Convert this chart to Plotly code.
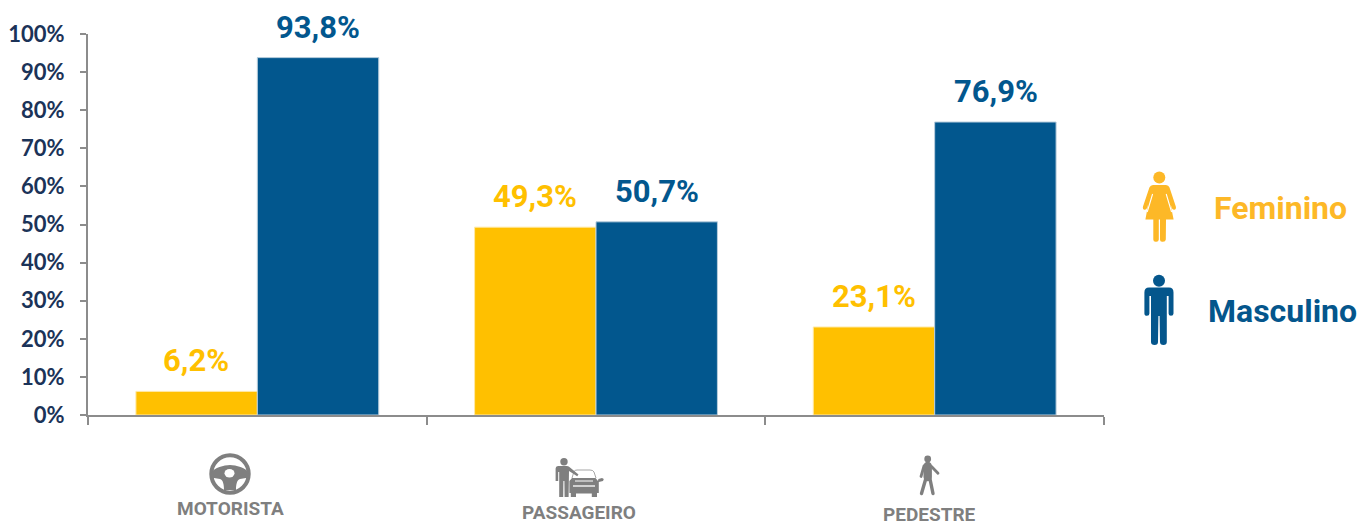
import base64
import plotly.graph_objects as go

W, H = 1357, 522
L, R, T, B = 88, 1104, 34, 415

categories = ["MOTORISTA", "PASSAGEIRO", "PEDESTRE"]
feminino = [6.2, 49.3, 23.1]
masculino = [93.8, 50.7, 76.9]
y_ticks = [0, 10, 20, 30, 40, 50, 60, 70, 80, 90, 100]
y_tick_labels = [f"{v}%" for v in y_ticks]

YELLOW = "#FFC000"
BLUE = "#02578E"
LEG_Y = "#FDB827"
LEG_B = "#04568C"
GRAY = "#7F7F7F"
NAVY = "#1B3358"


def px(x):
    return (x - L) / (R - L)


def py(y):
    return (B - y) / (B - T)


def fmt(v):
    return f"{v:.1f}".replace(".", ",") + "%"


def icon(x0, y0, x1, y1, body):
    svg = (f'<svg xmlns="http://www.w3.org/2000/svg" width="{(x1-x0)*4}" height="{(y1-y0)*4}" '
           f'viewBox="{x0} {y0} {x1-x0} {y1-y0}">{body}</svg>')
    src = "data:image/svg+xml;base64," + base64.b64encode(svg.encode()).decode()
    return dict(source=src, xref="paper", yref="paper", x=px(x0), y=py(y0),
                sizex=(x1 - x0) / (R - L), sizey=(y1 - y0) / (B - T),
                xanchor="left", yanchor="top", sizing="stretch", layer="above")


woman = f'''<g fill="{LEG_Y}"><circle cx="1159.3" cy="177.4" r="6"/>
<path d="M1153,185 L1166,185 Q1168.5,185 1169.5,187.5 L1175.8,206.5 Q1176.5,209.5 1174.2,209.8 Q1172.5,210 1171.8,208 L1170.6,204.5 L1173.6,219.5 L1166,219.5 L1165.8,239.5 Q1165.6,241.8 1163,241.8 L1162,241.8 Q1160,241.8 1160,239.5 L1160,219.5 L1158.8,219.5 L1158.8,239.5 Q1158.6,241.8 1156.4,241.8 L1155.6,241.8 Q1153.3,241.8 1153.3,239.5 L1153.3,219.5 L1145.4,219.5 L1148.2,204.5 L1147,208 Q1146.3,210 1144.6,209.8 Q1142.3,209.5 1143,206.5 L1149.4,187.5 Q1150.5,185 1153,185Z"/></g>
<path d="M1152.6,194 L1147.2,212 M1166.2,194 L1171.6,212" stroke="#fff" stroke-width="1.1" fill="none"/>'''

man = f'''<g fill="{LEG_B}"><circle cx="1159" cy="280.8" r="6"/>
<path d="M1149,287.6 L1169,287.6 Q1173.5,287.6 1173.5,292.5 L1173.5,313.5 Q1173.5,315.8 1171,315.8 Q1168.6,315.8 1168.6,313.5 L1168.6,296 L1166.8,296 L1166.8,342 Q1166.8,345 1163.5,345 Q1160,345 1160,342 L1159.6,316 L1158.4,316 L1158,342 Q1158,345 1154.6,345 Q1151,345 1151,342 L1151,296 L1149.4,296 L1149.4,313.5 Q1149.4,315.8 1147,315.8 Q1144.4,315.8 1144.4,313.5 L1144.4,292.5 Q1144.4,287.6 1149,287.6Z"/></g>'''

wheel = f'''<circle cx="230" cy="474" r="18.7" fill="none" stroke="{GRAY}" stroke-width="4"/>
<path d="M212,472 C214,468 224,465 230,465 C236,465 246,468 248,472 C250,476 248,478 246,478 L240,479 C237,480 236,484 236,490 L224,490 C224,484 223,480 220,479 L214,478 C212,478 210,476 212,472Z" fill="{GRAY}"/>
<ellipse cx="229.5" cy="473.2" rx="5" ry="4.2" fill="#fff"/>'''

passenger = f'''<g fill="{GRAY}"><circle cx="564" cy="461.7" r="3.7"/>
<path d="M558,466 L567,466 Q569,466 570,467.5 L578.5,474.5 L577.2,476.2 L569,471 L568.6,497 L564.6,497 L564.4,481 L563.4,481 L563.2,497 L559.2,497 L559.2,472 L558.2,472 L558.2,481 L555.6,481 L555.6,468.5 Q555.6,466 558,466Z"/>
<path d="M569.4,481 L572,478 L595.5,478 L598,481 L598.4,479 L602,478 L603.8,479 L603,481 L598.8,482 L598.8,493 L597,493 L597,497 L591.8,497 L591.8,493.5 L576,493.5 L576,497 L570.8,497 L570.8,493 L569.4,493Z"/>
</g><path d="M572,478 L574,471.5 Q575,470 577,470 L590,470 Q593,470 594,472 L596,478" fill="none" stroke="{GRAY}" stroke-width="0.7"/>
<path d="M573,486 L595,486" stroke="#fff" stroke-width="1.3"/><path d="M575,481 L593,481" stroke="#fff" stroke-width="1"/>'''

walker = f'''<circle cx="927.7" cy="459" r="3.4" fill="{GRAY}"/>
<g stroke="{GRAY}" fill="none" stroke-linecap="round" stroke-linejoin="round">
<path d="M924,466 L921,476.5 M931.5,466.5 L938,473.2" stroke-width="2.8"/>
<path d="M926,478 L921.5,493.5 M929.8,478 L933,493.5" stroke-width="3.4"/>
<path d="M927.7,466 L927.7,477" stroke-width="8.4"/></g>'''

fig = go.Figure()
fig.add_bar(name="Feminino", x=categories, y=feminino, marker=dict(color=YELLOW, line=dict(color="#FFE9A6", width=1)))
fig.add_bar(name="Masculino", x=categories, y=masculino, marker=dict(color=BLUE, line=dict(color="#B9CEDD", width=1)))

annotations = []
for cat, vals, col, shift in ((categories, feminino, YELLOW, -61), (categories, masculino, BLUE, 61)):
    for c, v in zip(cat, vals):
        annotations.append(dict(x=c, y=v, text=f"<b>{fmt(v)}</b>", showarrow=False, xshift=shift,
                                yshift=10, yanchor="bottom", font=dict(family="Roboto", size=31, color=col)))

for text, cx, cy in (("MOTORISTA", 230, 508.5), ("PASSAGEIRO", 579, 512), ("PEDESTRE", 929, 514)):
    annotations.append(dict(xref="paper", yref="paper", x=px(cx), y=py(cy), text=f"<b>{text}</b>", showarrow=False,
                            xanchor="center", yanchor="middle", height=15, borderpad=0, valign="middle",
                            font=dict(family="Roboto", size=19, color=GRAY)))
for text, cx, cy, col in (("Feminino", 1280.5, 208, LEG_Y), ("Masculino", 1282, 311, LEG_B)):
    annotations.append(dict(xref="paper", yref="paper", x=px(cx), y=py(cy), text=f"<b>{text}</b>", showarrow=False,
                            xanchor="center", yanchor="middle", font=dict(family="Roboto", size=32, color=col)))

fig.update_layout(
    width=W, height=H, autosize=False, margin=dict(l=L, r=W - R, t=T, b=H - B, pad=0),
    paper_bgcolor="#fff", plot_bgcolor="#fff", barmode="group", bargap=0.283, bargroupgap=0,
    showlegend=False, annotations=annotations,
    images=[icon(1135, 165, 1185, 250, woman), icon(1135, 270, 1185, 350, man),
            icon(205, 450, 255, 497, wheel), icon(550, 455, 608, 500, passenger),
            icon(915, 452, 943, 498, walker)],
    xaxis=dict(type="category", tickson="boundaries", ticks="outside", ticklen=8, tickwidth=2,
               tickcolor="#8C8C8C", showline=True, linecolor="#8C8C8C", linewidth=2, showticklabels=False,
               showgrid=False, zeroline=False, automargin=False),
    yaxis=dict(range=[0, 100], tickvals=y_ticks, ticktext=y_tick_labels, ticks="outside", ticklen=6, tickwidth=2,
               tickcolor="#8C8C8C", showline=True, linecolor="#8C8C8C", linewidth=2, showgrid=False, zeroline=False,
               automargin=False, ticklabelstandoff=11, tickfont=dict(family="Lato", size=22, color=NAVY, weight=700)),
)
fig.write_html("out.html", config=dict(displayModeBar=False),
               post_script="document.body.style.margin='0';document.documentElement.style.overflow='hidden';")
